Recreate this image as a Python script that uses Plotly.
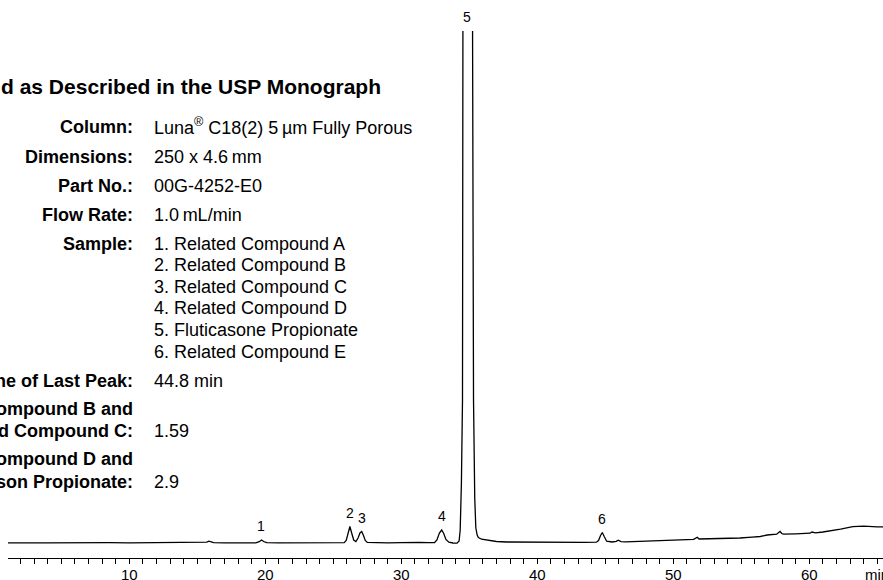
import plotly.graph_objects as go

# ---------------- data ----------------
time_min = [
    1.08, 1.5, 2.0, 2.5, 3.0, 4.0, 5.0, 6.0, 6.5, 6.8, 7.5, 8.5, 10.0, 11.0, 11.5, 12.0,
    13.0, 13.5, 14.5, 15.5, 15.7, 15.85, 16.0, 16.2, 17.0, 18.0, 19.3, 19.55, 19.72, 19.88,
    20.1, 21.0, 22.5, 24.0, 25.0, 25.8, 25.95, 26.08, 26.22, 26.36, 26.5, 26.66, 26.82,
    26.96, 27.09, 27.22, 27.35, 27.5, 28.0, 29.0, 30.0, 30.7, 31.0, 31.3, 32.0, 32.45,
    32.62, 32.8, 32.97, 33.12, 33.28, 33.5, 33.8, 34.1, 34.25, 34.33, 34.42, 34.50, 34.53,
    34.56, 34.88, 35.20, 35.24, 35.31, 35.40, 35.48, 35.58, 35.67, 35.9, 36.2, 36.5, 37.0,
    37.75, 39.0, 40.2, 41.5, 42.6, 43.5, 44.35, 44.5, 44.65, 44.78, 44.92, 45.1, 45.5,
    45.8, 45.96, 46.15, 46.5, 47.5, 49.0, 50.0, 51.5, 51.65, 51.76, 51.9, 53.0, 54.9,
    55.8, 56.4, 56.9, 57.6, 57.75, 57.85, 57.98, 58.1, 59.0, 60.05, 60.2, 60.3, 60.45,
    61.0, 61.5, 62.3, 63.2, 64.0, 65.0, 65.5,
]
signal = [
    0.2, 0.3, 0.4, 0.2, 0.2, 0.1, 0.2, 0.2, 0.8, 0.2, 0.2, 0.3, 0.1, 0.2, 0.5, 0.2,
    0.4, 0.2, 0.1, 0.3, 0.8, 1.8, 0.9, 0.3, 0.1, 0.1, 0.2, 1.3, 3.0, 1.5,
    0.3, 0.1, 0.2, 0.3, 0.3, 0.4, 2.5, 9.5, 16.5, 9.5, 3.0, 1.5, 5.0,
    10.0, 11.5, 7.5, 2.5, 0.6, 0.3, 0.2, 0.3, 0.5, 1.2, 0.6, 0.3, 0.5,
    3.0, 10.0, 13.0, 9.5, 3.5, 0.8, 0.0, -0.2, 2.0, 13.0, 60.0, 143.0, 512.0,
    1200.0, 3000.0, 1200.0, 512.0, 143.0, 45.0, 15.0, 8.0, 5.5, 3.8, 3.0, 2.3, 1.5,
    1.0, 0.8, 0.5, 0.6, 0.5, 0.6, 0.8, 2.5, 7.5, 10.5, 6.5, 1.8, 1.0,
    1.6, 2.8, 1.4, 1.2, 1.5, 2.3, 2.8, 3.6, 4.6, 5.8, 4.0, 4.2, 5.0,
    5.8, 6.5, 8.0, 8.8, 10.5, 11.5, 9.5, 8.8, 9.2, 9.8, 11.0, 10.8, 10.2,
    11.0, 12.0, 13.8, 16.3, 16.8, 16.2, 16.0,
]

peak_ids = ["1", "2", "3", "4", "5", "6"]
peak_times = [19.65, 26.22, 27.09, 32.97, 34.83, 44.78]

tick_values = [10, 20, 30, 40, 50, 60]
tick_labels = ["10", "20", "30", "40", "50", "60"]
axis_unit = "min"

title_text = "d as Described in the USP Monograph"
info_labels = ["Column:", "Dimensions:", "Part No.:", "Flow Rate:", "Sample:",
               "ne of Last Peak:", "ompound B and", "d Compound C:",
               "ompound D and", "son Propionate:"]
info_values = ["Luna<sup>®</sup> C18(2) 5\u2009µm Fully Porous", "250 x 4.6\u2009mm",
               "00G-4252-E0", "1.0\u2009mL/min",
               "1. Related Compound A", "2. Related Compound B", "3. Related Compound C",
               "4. Related Compound D", "5. Fluticasone Propionate", "6. Related Compound E",
               "44.8 min", "1.59", "2.9"]

# ---------------- layout geometry (pixels) ----------------
W, H = 883, 580
ML, MR, MT, MB = 8, 0, 31, 22
PW, PH = W - ML - MR, H - MT - MB
X_RANGE = [1.08, 65.42]
Y_RANGE = [-15, 512]

def xp(px):
    return (px - ML) / PW

def yp(py):
    return (H - MB - py) / PH

label_rows_y = [127, 157, 186, 215, 244, 381, 409, 431, 459, 482]
value_rows_y = [127, 157, 186, 215, 244, 265, 287, 308, 330, 352, 381, 431, 482]
LABEL_RIGHT, VALUE_LEFT = 135, 152
TICK_LABEL_Y = 574

FONT = "Liberation Sans, Arial, Helvetica, sans-serif"

fig = go.Figure()
fig.add_trace(go.Scatter(
    x=time_min, y=signal, mode="lines",
    line=dict(color="#000000", width=1.3),
    hoverinfo="skip", showlegend=False,
))

annotations = []
# peak labels, placed above each peak's maximum (clipped to the axis top)
for pid, pt in zip(peak_ids, peak_times):
    near = [s for t, s in zip(time_min, signal) if abs(t - pt) <= 0.15]
    top = min(max(near), Y_RANGE[1])
    annotations.append(dict(
        x=pt, y=top, xref="x", yref="y", text=pid, showarrow=False,
        yshift=14, xanchor="center", yanchor="middle",
        font=dict(family=FONT, size=14, color="#000"),
    ))

# x tick labels (drawn as annotations for exact vertical placement)
for tv, tl in zip(tick_values, tick_labels):
    annotations.append(dict(
        x=tv, y=yp(TICK_LABEL_Y), xref="x", yref="paper", text=tl, showarrow=False,
        xanchor="center", yanchor="middle",
        font=dict(family=FONT, size=15, color="#000"),
    ))
annotations.append(dict(
    x=xp(863), y=yp(TICK_LABEL_Y), xref="paper", yref="paper", text=axis_unit,
    showarrow=False, xanchor="left", yanchor="middle",
    font=dict(family=FONT, size=15, color="#000"),
))

annotations.append(dict(
    x=xp(383), y=yp(87), xref="paper", yref="paper", text="<b>" + title_text + "</b>",
    showarrow=False, xanchor="right", yanchor="middle",
    font=dict(family=FONT, size=21, color="#000"),
))
for txt, py in zip(info_labels, label_rows_y):
    annotations.append(dict(
        x=xp(LABEL_RIGHT), y=yp(py), xref="paper", yref="paper", text="<b>" + txt + "</b>",
        showarrow=False, xanchor="right", yanchor="middle",
        font=dict(family=FONT, size=18, color="#000"),
    ))
for txt, py in zip(info_values, value_rows_y):
    annotations.append(dict(
        x=xp(VALUE_LEFT), y=yp(py), xref="paper", yref="paper", text=txt,
        showarrow=False, xanchor="left", yanchor="middle",
        font=dict(family=FONT, size=18, color="#000"),
    ))

fig.update_layout(
    width=W, height=H,
    margin=dict(l=ML, r=MR, t=MT, b=MB, pad=0),
    paper_bgcolor="white", plot_bgcolor="white",
    showlegend=False,
    annotations=annotations,
    xaxis=dict(
        range=X_RANGE, showgrid=False, zeroline=False, automargin=False,
        showline=True, linecolor="#000", linewidth=1,
        ticks="outside", ticklen=5, tickwidth=1, tickcolor="#000",
        tickvals=tick_values, showticklabels=False,
        minor=dict(dtick=1, tick0=0, ticks="outside", ticklen=5, tickwidth=1, tickcolor="#000"),
    ),
    yaxis=dict(
        range=Y_RANGE, visible=False, showgrid=False, zeroline=False, automargin=False,
    ),
)

fig.write_html(
    "out.html",
    config={"displayModeBar": False},
    post_script="document.body.style.margin='0';document.body.style.overflow='hidden';",
)
